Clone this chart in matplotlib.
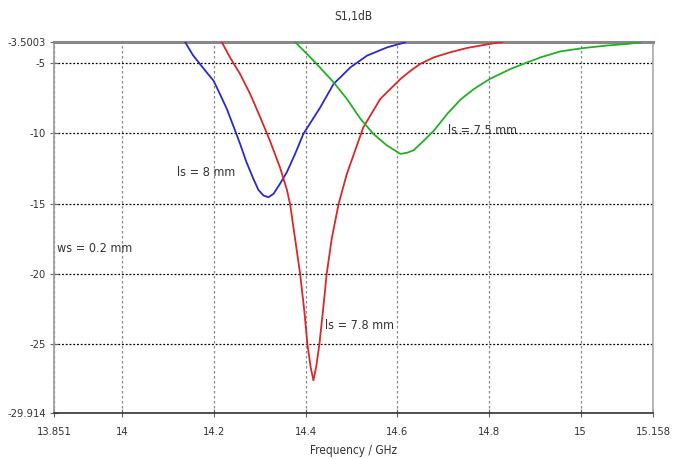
import matplotlib
matplotlib.use("Agg")
import matplotlib.pyplot as plt

plt.rcParams['font.family'] = ['DejaVu Sans']
plt.rcParams['font.stretch'] = 'condensed'

# S11 curves for three slot lengths (frequency in GHz, magnitude in dB)
f_ls8 = [14.137, 14.154, 14.169, 14.184, 14.199, 14.213, 14.228, 14.242,
         14.257, 14.271, 14.286, 14.297, 14.308, 14.319, 14.330, 14.344,
         14.359, 14.377, 14.395, 14.432, 14.461, 14.498, 14.534, 14.578,
         14.617]
s_ls8 = [-3.50, -4.43, -5.05, -5.66, -6.25, -7.2, -8.26, -9.45,
         -10.75, -12.06, -13.24, -14.03, -14.43, -14.55, -14.31, -13.6,
         -12.77, -11.47, -10.05, -8.15, -6.49, -5.3, -4.47, -3.88,
         -3.53]

f_ls78 = [14.217, 14.235, 14.257, 14.279, 14.301, 14.322, 14.344, 14.359,
          14.366, 14.377, 14.388, 14.397, 14.404, 14.411, 14.417, 14.423,
          14.430, 14.438, 14.446, 14.457, 14.472, 14.490, 14.508, 14.526,
          14.563, 14.607, 14.629, 14.650, 14.680, 14.716, 14.753, 14.802,
          14.829]
s_ls78 = [-3.50, -4.6, -5.78, -7.2, -8.86, -10.52, -12.42, -14.0,
          -15.02, -17.5, -20.0, -22.6, -25.03, -26.64, -27.59, -26.64,
          -25.03, -22.6, -20.0, -17.5, -15.02, -12.89, -11.23, -9.57,
          -7.55, -6.13, -5.55, -5.06, -4.59, -4.23, -3.92, -3.64,
          -3.50]

f_ls75 = [14.377, 14.403, 14.424, 14.461, 14.490, 14.520, 14.548, 14.578,
          14.607, 14.622, 14.636, 14.658, 14.680, 14.709, 14.738, 14.767,
          14.802, 14.847, 14.884, 14.913, 14.956, 15.004, 15.058, 15.102,
          15.131]
s_ls75 = [-3.50, -4.35, -5.06, -6.37, -7.55, -8.98, -10.05, -10.88,
          -11.47, -11.38, -11.2, -10.52, -9.81, -8.62, -7.6, -6.85,
          -6.13, -5.42, -4.95, -4.59, -4.17, -3.94, -3.75, -3.64,
          -3.52]

x_min, x_max = 13.851, 15.158
y_min, y_max = -29.914, -3.5003
x_ticks = [13.851, 14, 14.2, 14.4, 14.6, 14.8, 15, 15.158]
x_labels = ['13.851', '14', '14.2', '14.4', '14.6', '14.8', '15', '15.158']
y_ticks = [-29.914, -25, -20, -15, -10, -5, -3.5003]
y_labels = ['-29.914', '-25', '-20', '-15', '-10', '-5', '-3.5003']

txt = '#333333'

fig = plt.figure(figsize=(6.81, 4.59), dpi=100)
ax = fig.add_axes([0.0793, 0.1002, 0.8796, 0.8083])

ax.plot(f_ls8, s_ls8, color='#2a2ac8', lw=1.3, zorder=3)
ax.plot(f_ls78, s_ls78, color='#d82828', lw=1.3, zorder=3)
ax.plot(f_ls75, s_ls75, color='#22b022', lw=1.3, zorder=3)

ax.set_xlim(x_min, x_max)
ax.set_ylim(y_min, y_max)
ax.set_xticks(x_ticks)
ax.set_xticklabels(x_labels)
ax.set_yticks(y_ticks)
ax.set_yticklabels(y_labels)
ax.tick_params(direction='inout', length=6, width=0.8, colors='#666666',
               labelcolor=txt, labelsize=8, pad=3)
ax.tick_params(axis='x', pad=7)

ax.yaxis.grid(True, color='black', linestyle=(0, (1.5, 1.5)), lw=0.9)
ax.xaxis.grid(True, color='#888888', linestyle=(0, (2, 2)), lw=0.9)
ax.set_axisbelow(True)

ax.spines['top'].set_color('#888888')
ax.spines['top'].set_linewidth(2.2)
ax.spines['left'].set_color('#999999')
ax.spines['right'].set_color('#aaaaaa')
ax.spines['bottom'].set_color('#333333')
for s in ('left', 'right', 'bottom'):
    ax.spines[s].set_linewidth(1.2)

ax.set_title('S1,1dB', fontsize=8.5, color=txt, pad=16)
ax.set_xlabel('Frequency / GHz', fontsize=8.5, color=txt, labelpad=5)

ax.text(14.119, -12.8, 'ls = 8 mm', fontsize=9, color=txt, va='center')
ax.text(14.443, -23.7, 'ls = 7.8 mm', fontsize=9, color=txt, va='center')
ax.text(14.711, -9.8, 'ls = 7.5 mm', fontsize=9, color=txt, va='center')
ax.text(13.858, -18.2, 'ws = 0.2 mm', fontsize=9, color=txt, va='center')

fig.savefig('out.png', dpi=100)
